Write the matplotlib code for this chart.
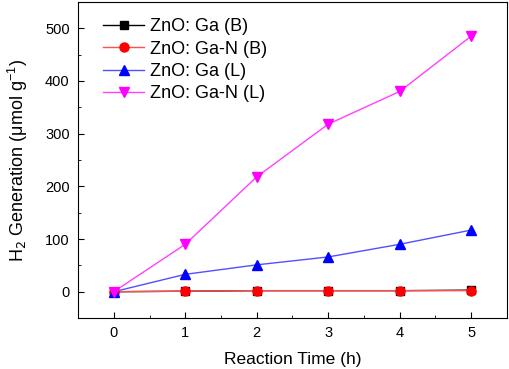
import matplotlib
matplotlib.use('Agg')
import matplotlib.pyplot as plt
from matplotlib.ticker import MultipleLocator

plt.rcParams['font.family'] = ['Liberation Sans', 'DejaVu Sans']

# data
time_h = [0, 1, 2, 3, 4, 5]
ga_b = [0, 1, 2, 2, 2, 3]
ga_n_b = [0, 1, 2, 2, 2, 2]
ga_l = [0, 33, 51, 66, 90, 117]
ga_n_l = [0, 90, 218, 318, 380, 485]

fig = plt.figure(figsize=(5.1, 3.69), dpi=100)
ax = fig.add_axes([0.153, 0.138, 0.841, 0.857])

ax.plot(time_h, ga_b, color='black', marker='s', markersize=5.5, lw=1, label='ZnO: Ga (B)')
ax.plot(time_h, ga_n_b, color='#ff5050', marker='o', markersize=6.5, lw=1,
        markerfacecolor='red', markeredgecolor='red', label='ZnO: Ga-N (B)')
ax.plot(time_h, ga_l, color='#5050ff', marker='^', markersize=6.5, lw=1,
        markerfacecolor='blue', markeredgecolor='blue', label='ZnO: Ga (L)')
ax.plot(time_h, ga_n_l, color='#ff40ff', marker='v', markersize=6.5, lw=1,
        markerfacecolor='magenta', markeredgecolor='magenta', label='ZnO: Ga-N (L)')

ax.set_xlim(-0.5, 5.5)
ax.set_ylim(-50, 550)
ax.set_xticks(time_h)
ax.set_yticks([0, 100, 200, 300, 400, 500])
ax.xaxis.set_minor_locator(MultipleLocator(0.5))
ax.yaxis.set_minor_locator(MultipleLocator(50))
ax.tick_params(which='both', direction='in', labelsize=10.5, pad=6)
ax.tick_params(which='major', length=4)
ax.tick_params(which='minor', length=2.5)

ax.set_xlabel('Reaction Time (h)', fontsize=12.5, labelpad=8)
ax.set_ylabel(r'H$_2$ Generation ($\mathregular{\mu}$mol g$^{\mathregular{-1}}$)',
              fontsize=13, labelpad=11)

ax.legend(loc='upper left', bbox_to_anchor=(0.02, 1.0), frameon=False, fontsize=13,
          handlelength=2.3, handletextpad=0.3, borderaxespad=0.5, labelspacing=0.3)

fig.savefig('out.png', dpi=100)
